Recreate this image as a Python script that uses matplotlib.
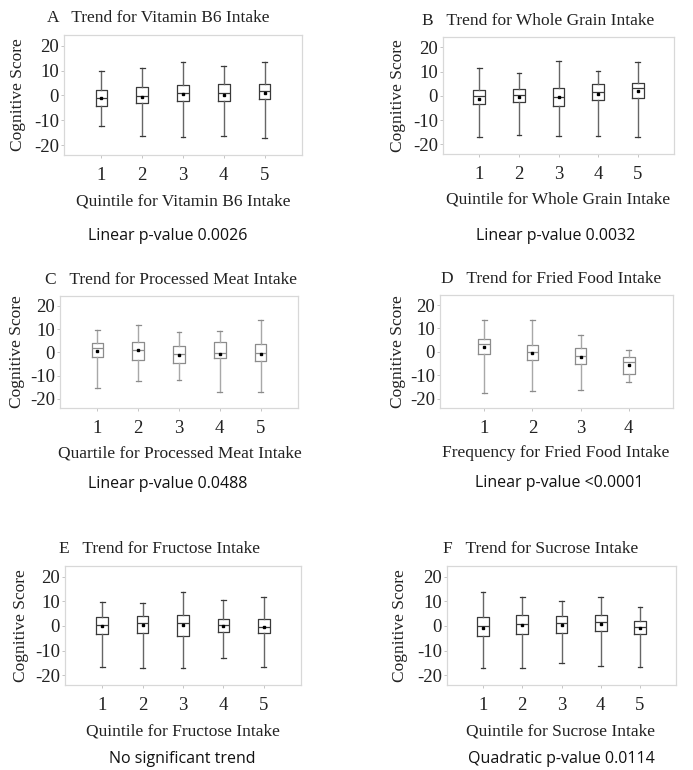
import matplotlib.pyplot as plt

# box stats: whisker high, q3, median, mean, q1, whisker low
cats5 = [1, 2, 3, 4, 5]
cats4 = [1, 2, 3, 4]

a_hi = [9.9, 10.9, 13.6, 11.9, 13.3]
a_q3 = [2.1, 3.2, 4.1, 4.4, 4.4]
a_med = [-1.1, -0.4, 0.9, 0.9, 1.6]
a_mean = [-1.1, -0.7, 0.5, 0.3, 0.9]
a_q1 = [-4.3, -3.2, -2.3, -2.4, -1.5]
a_lo = [-12.4, -16.5, -16.8, -16.5, -17.1]

b_hi = [11.6, 9.4, 14.3, 10.1, 14.0]
b_q3 = [2.5, 2.8, 3.4, 4.9, 5.5]
b_med = [0.0, 0.3, -0.3, 1.8, 3.4]
b_mean = [-1.1, -0.4, -0.4, 0.8, 2.2]
b_q1 = [-3.5, -2.5, -4.1, -1.8, -0.8]
b_lo = [-16.8, -16.1, -16.4, -16.6, -17.1]

c_hi = [9.6, 11.9, 8.8, 9.4, 13.8]
c_q3 = [4.0, 4.3, 2.8, 4.3, 3.4]
c_med = [1.7, 1.0, -0.9, -0.1, -0.3]
c_mean = [0.6, 0.9, -1.0, -0.7, -0.6]
c_q1 = [-1.8, -3.4, -4.4, -2.3, -3.8]
c_lo = [-15.2, -12.5, -12.1, -17.3, -16.9]

d_hi = [13.6, 13.8, 7.2, 0.8]
d_q3 = [5.4, 3.0, 1.6, -2.3]
d_med = [3.2, -0.1, -1.6, -4.2]
d_mean = [2.0, -0.6, -2.3, -5.5]
d_q1 = [-0.8, -3.4, -5.4, -9.3]
d_lo = [-17.4, -16.9, -16.2, -13.0]

e_hi = [9.7, 9.2, 13.8, 10.5, 11.6]
e_q3 = [3.6, 4.2, 4.6, 2.7, 2.7]
e_med = [0.5, 1.2, 1.1, 0.3, -0.3]
e_mean = [-0.1, 0.3, 0.3, 0.1, -0.3]
e_q1 = [-3.5, -3.0, -4.1, -2.6, -3.0]
e_lo = [-16.6, -16.9, -17.2, -13.0, -16.6]

f_hi = [13.8, 11.9, 10.0, 11.6, 7.6]
f_q3 = [3.6, 4.3, 3.9, 4.5, 1.9]
f_med = [-0.1, 0.9, 1.1, 1.4, -0.4]
f_mean = [-0.8, 0.4, 0.4, 0.8, -0.8]
f_q1 = [-4.3, -3.4, -3.0, -2.0, -3.2]
f_lo = [-16.9, -17.2, -15.0, -16.4, -16.8]

yticks = [20, 10, 0, -10, -20]

W, H = 693, 770
fig = plt.figure(figsize=(W / 100, H / 100), dpi=100)
plt.rcParams['font.family'] = 'Liberation Serif'


def px(x, y):
    return x / W, 1 - y / H


def make_stats(hi, q3, med, mean, q1, lo):
    out = []
    for i in range(len(hi)):
        out.append(dict(whishi=hi[i], q3=q3[i], med=med[i], mean=mean[i],
                        q1=q1[i], whislo=lo[i], fliers=[]))
    return out


panels = [
    # letter, title, xlabel, note, cats, stats, (l, t, r, b), box colour, whisker colour,
    # title pos, xlabel pos, note pos, ylabel x
    ("A", "Trend for Vitamin B6 Intake", "Quintile for Vitamin B6 Intake", "Linear p-value 0.0026",
     cats5, make_stats(a_hi, a_q3, a_med, a_mean, a_q1, a_lo), (64, 35, 302, 155), "#3a3a3a", "#666666",
     (47, 18), (183, 202), (168, 236), 18),
    ("B", "Trend for Whole Grain Intake", "Quintile for Whole Grain Intake", "Linear p-value 0.0032",
     cats5, make_stats(b_hi, b_q3, b_med, b_mean, b_q1, b_lo), (443, 37, 674, 154), "#3a3a3a", "#666666",
     (422, 21), (558, 200), (556, 236), 398),
    ("C", "Trend for Processed Meat Intake", "Quartile for Processed Meat Intake", "Linear p-value 0.0488",
     cats5, make_stats(c_hi, c_q3, c_med, c_mean, c_q1, c_lo), (60, 296, 298, 408), "#8c8c8c", "#a8a8a8",
     (45, 280), (180, 453), (168, 484), 17),
    ("D", "Trend for Fried Food Intake", "Frequency for Fried Food Intake", "Linear p-value <0.0001",
     cats4, make_stats(d_hi, d_q3, d_med, d_mean, d_q1, d_lo), (440, 295, 673, 408), "#8c8c8c", "#a8a8a8",
     (441, 279), (556, 453), (559, 483), 398),
    ("E", "Trend for Fructose Intake", "Quintile for Fructose Intake", "No significant trend",
     cats5, make_stats(e_hi, e_q3, e_med, e_mean, e_q1, e_lo), (65, 566, 301, 685), "#3a3a3a", "#666666",
     (59, 549), (183, 731), (182, 759), 21),
    ("F", "Trend for Sucrose Intake", "Quintile for Sucrose Intake", "Quadratic p-value 0.0114",
     cats5, make_stats(f_hi, f_q3, f_med, f_mean, f_q1, f_lo), (447, 566, 676, 685), "#3a3a3a", "#666666",
     (443, 549), (561, 731), (561, 759), 400),
]

for letter, title, xlab, note, cats, stats, box, col, wcol, tpos, xpos, npos, ylx in panels:
    l, t, r, b = box
    ax = fig.add_axes([l / W, 1 - b / H, (r - l) / W, (b - t) / H])
    n = len(cats)
    unit_px = (r - l) / (n + 0.84)
    wid = 11.8 / unit_px
    ax.bxp(stats, positions=cats, widths=wid, capwidths=wid * 0.4,
           showmeans=True, patch_artist=False,
           boxprops=dict(color=col, linewidth=0.9),
           whiskerprops=dict(color=wcol, linewidth=1.0),
           capprops=dict(color=col, linewidth=0.9),
           medianprops=dict(color=col, linewidth=0.9),
           meanprops=dict(marker="s", markersize=1.6, markerfacecolor="black",
                          markeredgecolor="black"))
    ax.set_xlim(0.08, n + 0.92)
    ax.set_ylim(-24, 24.3)
    ax.set_yticks(yticks)
    ax.set_yticklabels([str(v) for v in yticks])
    ax.set_xticks(cats)
    ax.set_xticklabels([str(c) for c in cats])
    ax.tick_params(axis="both", length=2.2, width=0.6, color="#bbbbbb",
                   labelsize=13.5, labelcolor="#222222")
    ax.tick_params(axis="y", pad=1.5)
    ax.tick_params(axis="x", pad=6.5)
    for s in ax.spines.values():
        s.set_color("#d8d8d8")
        s.set_linewidth(0.9)

    fig.text(*px(*tpos), letter + "   " + title, ha="left", va="center",
             fontsize=12.5, color="#222222")
    fig.text(*px(ylx, (t + b) / 2), "Cognitive Score", rotation=90,
             ha="center", va="center", fontsize=12.5, color="#222222")
    fig.text(*px(*xpos), xlab, ha="center", va="center", fontsize=12.5, color="#222222")
    fig.text(*px(*npos), note, ha="center", va="center", fontsize=11.5,
             family="Open Sans", color="#111111")

fig.savefig("out.png", dpi=100)
